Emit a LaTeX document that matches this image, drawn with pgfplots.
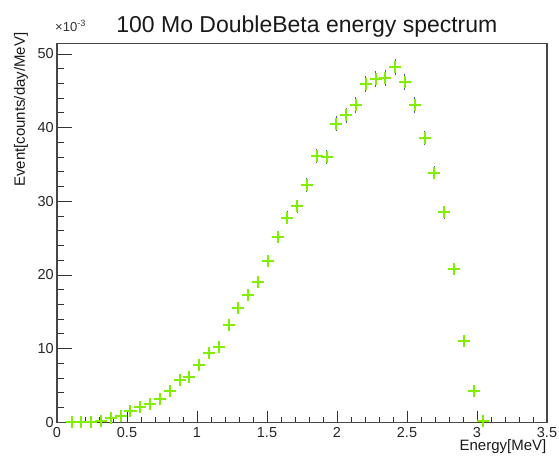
\documentclass[border=0pt]{standalone}
\usepackage{pgfplots}
\pgfplotsset{compat=1.18}
\usepackage{pgfplotstable}
\usepackage{fontspec}
\setmainfont{Liberation Sans}

\definecolor{mkgreen}{rgb}{0.5,0.94,0.0}
\definecolor{errblue}{RGB}{70,90,160}
\definecolor{framegray}{RGB}{70,70,70}

% bin centre, value (x 10^-3), error
\pgfplotstableread{
x      y     e
0.105  0.05  0.04
0.175  0.1   0.05
0.245  0.1   0.05
0.315  0.2   0.07
0.385  0.6   0.12
0.455  0.8   0.14
0.525  1.5   0.20
0.595  2.1   0.23
0.665  2.5   0.25
0.735  3.2   0.29
0.805  4.2   0.33
0.875  5.8   0.39
0.945  6.1   0.40
1.015  7.8   0.45
1.085  9.4   0.49
1.155  10.2  0.51
1.225  13.2  0.58
1.295  15.5  0.63
1.365  17.3  0.67
1.435  19.0  0.70
1.505  21.9  0.75
1.575  25.2  0.80
1.645  27.8  0.84
1.715  29.3  0.87
1.785  32.2  0.91
1.855  36.1  0.96
1.925  36.0  0.96
1.995  40.5  1.02
2.065  41.7  1.03
2.135  43.1  1.05
2.205  45.9  1.08
2.275  46.6  1.09
2.345  46.8  1.09
2.415  48.2  1.11
2.485  46.2  1.09
2.555  43.1  1.05
2.625  38.6  0.99
2.695  33.9  0.93
2.765  28.5  0.85
2.835  20.8  0.73
2.905  11.1  0.53
2.975  4.2   0.33
3.045  0.2   0.07
}\spectrum

\pgfplotsset{
  rootframe/.style={
    scale only axis,
    width=490pt, height=379pt,
    at={(0,0)}, anchor=south west,
    xmin=0, xmax=3.5, ymin=0, ymax=51.45,
    axis line style={framegray, line width=1.1pt},
    tick style={black!80, line width=0.9pt},
    tick align=inside, tick pos=left,
    minor tick num=4,
    /pgf/number format/assume math mode=true,
    ticklabel style={font=\fontsize{14.5}{16}\selectfont, text=black!85},
  }
}

\begin{document}
\begin{tikzpicture}
\path[use as bounding box] (-57pt,-34.7pt) rectangle (502pt,422.3pt);

% x ticks (shorter, as in ROOT)
\begin{axis}[rootframe,
    xtick={0,0.5,...,3.5}, ytick=\empty,
    major tick length=11.4pt, minor tick length=5.7pt,
    xticklabel style={inner sep=0pt, anchor=north, yshift=-5pt},
]
\end{axis}

% y ticks and data
\begin{axis}[rootframe,
    xtick=\empty, ytick={0,10,...,50},
    major tick length=14.7pt, minor tick length=7.4pt,
    yticklabel style={inner sep=0pt, anchor=east, xshift=-3pt},
    clip=false,
]
% statistical errors
\addplot[draw=none, mark=none, forget plot,
    error bars/.cd, y dir=both, y explicit,
    error bar style={draw=errblue, line width=1.1pt}, error mark=none]
    table[x=x, y=y, y error=e] {\spectrum};
% markers
\addplot[only marks, mark=+, mark size=6pt,
    mark options={draw=mkgreen, line width=2pt, line cap=butt}]
    table[x=x, y=y] {\spectrum};

\node[anchor=base, font=\fontsize{23}{27}\selectfont, text=black!90]
  at (rel axis cs:0.51,1) [yshift=11pt] {100 Mo DoubleBeta energy spectrum};
\node[anchor=base west, inner sep=0pt, font=\fontsize{13}{14}\selectfont, text=black!80]
  at (rel axis cs:0,1) [xshift=-2pt, yshift=12pt] {×10\textsuperscript{-3}};
\node[xshift=-32pt, yshift=11pt, rotate=90, anchor=base east, inner sep=0pt,
    font=\fontsize{15}{17}\selectfont, text=black!90]
  at (rel axis cs:0,1) {Event[counts/day/MeV]};
\node[anchor=base east, inner sep=0pt, font=\fontsize{15}{17}\selectfont, text=black!90]
  at (rel axis cs:1,0) [xshift=-0.5pt, yshift=-28.5pt] {Energy[MeV]};
\end{axis}
\end{tikzpicture}
\end{document}
